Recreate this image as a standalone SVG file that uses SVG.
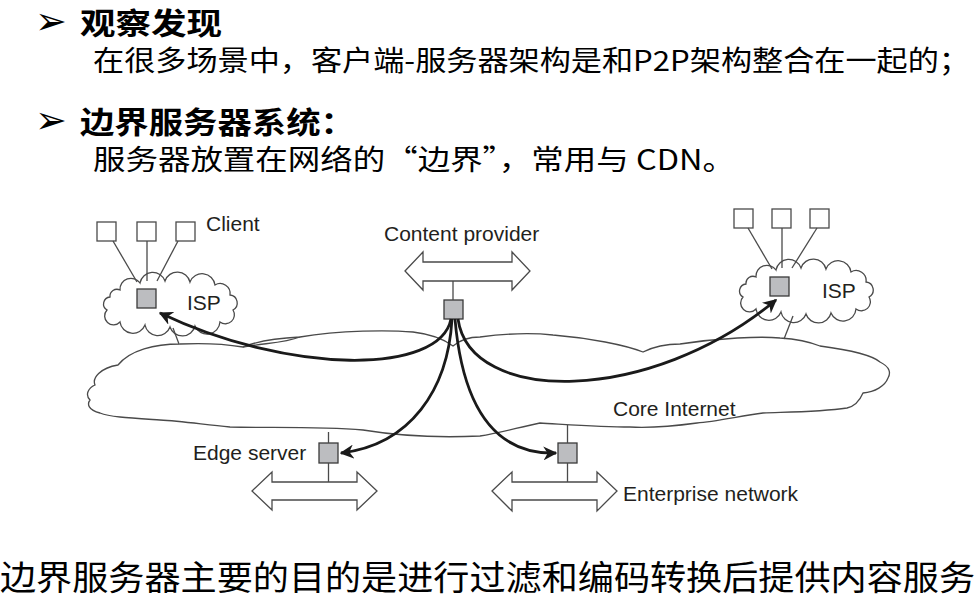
<svg xmlns="http://www.w3.org/2000/svg" width="980" height="603" viewBox="0 0 980 603">
<defs>
<style>
.cn{font-family:"Noto Sans CJK SC","Noto Sans",sans-serif;fill:#000}
.hd{font-weight:bold;font-size:30px}
.bd{font-size:28px}
.bul{font-family:"DejaVu Sans",sans-serif;font-size:38px;fill:#000}
.lb{font-family:"Liberation Sans",Arial,sans-serif;font-size:21px;fill:#231f20}
.thin{fill:none;stroke:#4a4a4a;stroke-width:1.3}
.box{fill:#fff;stroke:#4a4a4a;stroke-width:1.3}
.srv{fill:#bcbdc0;stroke:#3a3a3a;stroke-width:1.3}
.cloud{fill:#fff;stroke:#4a4a4a;stroke-width:1.3}
.dbl{fill:#fff;stroke:#4a4a4a;stroke-width:1.3}
.arr{fill:none;stroke:#1a1a1a;stroke-width:2.8;marker-end:url(#ah)}
</style>
<marker id="ah" viewBox="0 0 10 10" refX="9" refY="5" markerWidth="5" markerHeight="5" orient="auto" markerUnits="strokeWidth">
<path d="M0,0 L10,5 L0,10 L3,5 Z" fill="#1a1a1a"/>
</marker>
<path id="isp" d="M120,290 A11,11 0 0 1 140,283 A13,13 0 0 1 165,281 A13,13 0 0 1 190,282 A13,13 0 0 1 215,285 A10,10 0 0 1 230,295 A8,8 0 0 1 233,310 A9,9 0 0 1 220,322 A13,13 0 0 1 195,326 A13,13 0 0 1 170,327 A13,13 0 0 1 145,325 A13,13 0 0 1 120,322 A8,8 0 0 1 107,310 A7,7 0 0 1 110,297 A7,7 0 0 1 120,290 Z"/>
</defs>
<rect width="980" height="603" fill="#fff"/>

<g id="text-top">
<text class="bul" x="35" y="34">➢</text>
<text class="cn hd" x="80" y="34" textLength="142" lengthAdjust="spacingAndGlyphs">观察发现</text>
<text class="cn bd" x="93" y="71" textLength="877" lengthAdjust="spacingAndGlyphs">在很多场景中，客户端-服务器架构是和P2P架构整合在一起的；</text>
<text class="bul" x="35" y="133">➢</text>
<text class="cn hd" x="80" y="133" textLength="275" lengthAdjust="spacingAndGlyphs">边界服务器系统：</text>
<text class="cn bd" x="93" y="170" textLength="642" lengthAdjust="spacingAndGlyphs">服务器放置在网络的“边界”，常用与 CDN。</text>
</g>

<g id="core-internet">
<path class="cloud" d="M118,365 C130,350 155,344 180,344 C200,343 225,344 243,347 C260,340 280,338 300,337 C340,330 390,330 413,332 C430,334 445,340 453,346 C460,340 470,337 480,337 C510,333 535,333 553,335 C590,338 625,345 643,352 C655,346 665,344 680,344 C720,338 760,336 780,338 C795,339 810,342 820,346 C850,350 872,355 880,362 C890,367 891,373 888,378 C885,386 875,392 863,393 C860,400 856,406 847,408 C820,412 790,412 763,413 C740,416 715,422 697,423 C675,426 650,428 630,427 C600,427 560,424 540,423 C520,427 500,433 480,436 C440,438 400,436 363,430 C320,426 270,428 230,427 C200,424 180,421 160,420 C130,418 110,417 100,413 C88,410 87,404 90,400 C85,395 88,388 95,385 C92,378 100,368 118,365 Z"/>
<path class="thin" d="M243,347 C265,343 285,343 300,337"/>
<text class="lb" x="613" y="416">Core Internet</text>
</g>

<g id="isp-left">
<use href="#isp" class="cloud"/>
<text class="lb" x="187" y="310">ISP</text>
<rect class="srv" x="137" y="289" width="19" height="19"/>
</g>

<g id="isp-right">
<use href="#isp" class="cloud" transform="translate(636,-13)"/>
<text class="lb" x="822" y="298">ISP</text>
<rect class="srv" x="770" y="277" width="19" height="19"/>
</g>

<g id="clients-left">
<rect class="box" x="97" y="222" width="19" height="19"/>
<rect class="box" x="137" y="222" width="19" height="19"/>
<rect class="box" x="176" y="222" width="19" height="19"/>
<text class="lb" x="206" y="231">Client</text>
</g>

<g id="clients-right">
<rect class="box" x="734" y="209" width="19" height="19"/>
<rect class="box" x="772" y="209" width="19" height="19"/>
<rect class="box" x="810" y="209" width="19" height="19"/>
</g>

<g id="content-provider">
<text class="lb" x="384" y="241">Content provider</text>
<polygon class="dbl" points="405,271 423,252 423,262 512,262 512,252 530,271 512,290 512,281 423,281 423,290"/>
<rect class="srv" x="444" y="300" width="19" height="19"/>
</g>

<g id="edge-server">
<text class="lb" x="193" y="460">Edge server</text>
<polygon class="dbl" points="252,491 272,472 272,482 357,482 357,472 377,491 357,510 357,500 272,500 272,510"/>
<rect class="srv" x="319" y="443" width="19" height="20"/>
</g>

<g id="enterprise">
<text class="lb" x="623" y="501">Enterprise network</text>
<polygon class="dbl" points="492,491 512,472 512,482 597,482 597,472 617,491 597,511 597,500 512,500 512,511"/>
<rect class="srv" x="558" y="443" width="19" height="20"/>
</g>

<g id="connectors">
<line class="thin" x1="113" y1="241" x2="137" y2="282"/>
<line class="thin" x1="147" y1="241" x2="147" y2="281"/>
<line class="thin" x1="178" y1="241" x2="157" y2="281"/>
<line class="thin" x1="173" y1="328" x2="179" y2="344"/>
<line class="thin" x1="748" y1="228" x2="772" y2="269"/>
<line class="thin" x1="782" y1="228" x2="782" y2="268"/>
<line class="thin" x1="817" y1="228" x2="792" y2="268"/>
<line class="thin" x1="793" y1="316" x2="784" y2="339"/>
<line class="thin" x1="453" y1="281" x2="453" y2="300"/>
<line class="thin" x1="328.5" y1="432" x2="328.5" y2="443"/>
<line class="thin" x1="328.5" y1="463" x2="328.5" y2="482"/>
<line class="thin" x1="567.5" y1="425" x2="567.5" y2="443"/>
<line class="thin" x1="567.5" y1="463" x2="567.5" y2="482"/>
<path class="arr" d="M451,319 C440,375 290,375 160,313"/>
<path class="arr" d="M458,319 C470,405 650,405 776,300"/>
<path class="arr" d="M452,319 C448,390 410,445 341,453"/>
<path class="arr" d="M455,319 C462,400 490,455 556,453"/>
</g>

<g id="text-bottom">
<text class="cn" x="0" y="590" font-size="34" textLength="975" lengthAdjust="spacingAndGlyphs">边界服务器主要的目的是进行过滤和编码转换后提供内容服务</text>
</g>
</svg>
